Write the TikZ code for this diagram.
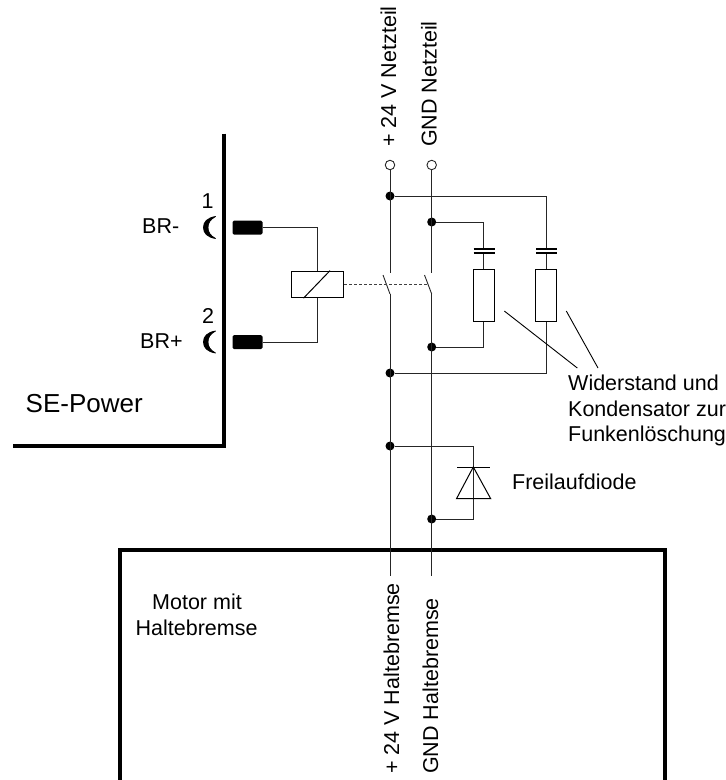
\documentclass[tikz,border=0pt]{standalone}
\usepackage{fontspec}
\usetikzlibrary{calc}
\setmainfont{Liberation Sans}
\tikzset{
  wire/.style={line width=0.9pt,black!85},
  thick wall/.style={line width=3.3pt,black,line cap=butt,line join=miter},
  dot/.style={circle,fill=black,inner sep=0pt,minimum size=9pt},
  term/.style={circle,draw=black!85,fill=white,line width=0.9pt,inner sep=0pt,minimum size=9.5pt},
  relaybox/.style={rectangle,draw=black,line width=1pt,fill=white,inner sep=0pt,minimum width=52pt,minimum height=26.5pt},
  res/.style={rectangle,draw=black,line width=1pt,fill=white,inner sep=0pt,minimum width=21pt,minimum height=52pt},
  pin/.style={rectangle,rounded corners=1.5pt,fill=black,inner sep=0pt,minimum width=30pt,minimum height=14pt},
  txt/.style={inner sep=0pt,font=\fontsize{21.5}{25}\selectfont},
  vtxt/.style={inner sep=0pt,rotate=90,font=\fontsize{21.5}{25}\selectfont},
  plate/.style={line width=2pt,black},
  lead/.style={line width=0.9pt,black},
  crescent/.style={fill=black,draw=black,line width=0.8pt,line join=round}
}
\begin{document}
\begin{tikzpicture}[x=1pt,y=-1pt]
\useasboundingbox (0,0) rectangle (726,780);
% named points
\node[term] (t1) at (390,165) {};
\node[term] (t2) at (431.7,165) {};
\node[dot] (j1) at (390,196) {};
\node[dot] (j2) at (431.7,222) {};
\node[dot] (j3) at (431.7,347) {};
\node[dot] (j4) at (390,373) {};
\node[dot] (j5) at (390,446) {};
\node[dot] (j6) at (431.7,519) {};
\coordinate (s1a) at (390,273); \coordinate (s1b) at (390,294);
\coordinate (s2a) at (431.7,273); \coordinate (s2b) at (431.7,294);
\coordinate (e1) at (390,576); \coordinate (e2) at (431.7,576);
% walls
\draw[thick wall] (224,133.5) -- (224,446) -- (13,446);
\draw[thick wall] (120,780) -- (120,550) -- (665,550) -- (665,780);
% relay
\node[pin] (p1) at (247.5,227.5) {};
\node[pin] (p2) at (247.5,342) {};
\node[relaybox] (rel) at (317.5,284.4) {};
\draw[wire] (p1.east) -| (rel.north);
\draw[wire] (p2.east) -| (rel.south);
\draw[line width=1pt] ($(rel.south west)+(12.5,0)$) -- ($(rel.north west)+(39,0)$);
% crescents
\draw[crescent] (215.5,216.5) .. controls (207,218) and (203.5,222) .. (203.5,227.5) .. controls (203.5,233) and (207,237) .. (215.5,238.5) .. controls (210,235.5) and (208,232) .. (208,227.5) .. controls (208,223) and (210,219.5) .. (215.5,216.5) -- cycle;
\draw[crescent] (215.5,331) .. controls (207,332.5) and (203.5,336.5) .. (203.5,342) .. controls (203.5,347.5) and (207,351.5) .. (215.5,353) .. controls (210,350) and (208,346.5) .. (208,342) .. controls (208,337.5) and (210,334) .. (215.5,331) -- cycle;
\node[txt,anchor=base] at (207.5,208) {1};
\node[txt,anchor=base] at (208,323) {2};
\node[txt,anchor=base west] at (142,233) {BR-};
\node[txt,anchor=base west] at (140,348) {BR+};
\node[inner sep=0pt,anchor=base west,font=\fontsize{26}{30}\selectfont] at (25.5,412) {SE-Power};
% mains
\draw[wire] (t1) -- (s1a);
\draw[wire] (t2) -- (s2a);
\draw[wire] (s1b) -- (e1);
\draw[wire] (s2b) -- (e2);
\draw[wire] (383,275) -- (s1b);
\draw[wire] (424.5,275) -- (s2b);
\draw[line width=1pt,black!75,densely dashed] (rel.east) -- (428,284.4);
% RC branches
\node[res] (r1) at (483.8,295.3) {};
\node[res] (r2) at (546.3,295.3) {};
\coordinate (c1t) at (483.8,248.7); \coordinate (c1b) at (483.8,253.3);
\coordinate (c2t) at (546.3,248.7); \coordinate (c2b) at (546.3,253.3);
\draw[wire] (j2) -| (c1t);
\draw[wire] (c1b) -- (r1.north);
\draw[wire] (r1.south) |- (j3);
\draw[wire] (j1) -| (c2t);
\draw[wire] (c2b) -- (r2.north);
\draw[wire] (r2.south) |- (j4);
\draw[plate] (473.5,248.7) -- (494.5,248.7) (473.5,253.3) -- (494.5,253.3);
\draw[plate] (536,248.7) -- (557,248.7) (536,253.3) -- (557,253.3);
% diode
\draw[wire] (j5) -| (473.3,519) -- (j6);
\draw[line width=1pt] (457,467) -- (490,467);
\draw[line width=1pt] (473.3,467) -- (490.7,498.7) -- (456.5,498.7) -- cycle;
% leaders
\coordinate (wtext) at (577.3,368);
\draw[lead] (504.3,311) -- (wtext);
\draw[lead] (566.3,311) -- (598,368);
% labels
\node[txt,anchor=base west] at (512,489) {Freilaufdiode};
\node[txt,anchor=base west] at (568,390) {Widerstand und};
\node[txt,anchor=base west] at (568,416) {Kondensator zur};
\node[txt,anchor=base west] at (568,441.5) {Funkenlöschung};
\node[txt,anchor=base west] at (152,609) {Motor mit};
\node[txt,anchor=base west] at (135.5,635) {Haltebremse};
\node[vtxt,anchor=base west] at (396,147) {+ 24 V Netzteil};
\node[vtxt,anchor=base west] at (436.7,147) {GND Netzteil};
\node[vtxt,anchor=base west] at (399,774) {+ 24 V Haltebremse};
\node[vtxt,anchor=base west] at (438,774) {GND Haltebremse};
\end{tikzpicture}
\end{document}
